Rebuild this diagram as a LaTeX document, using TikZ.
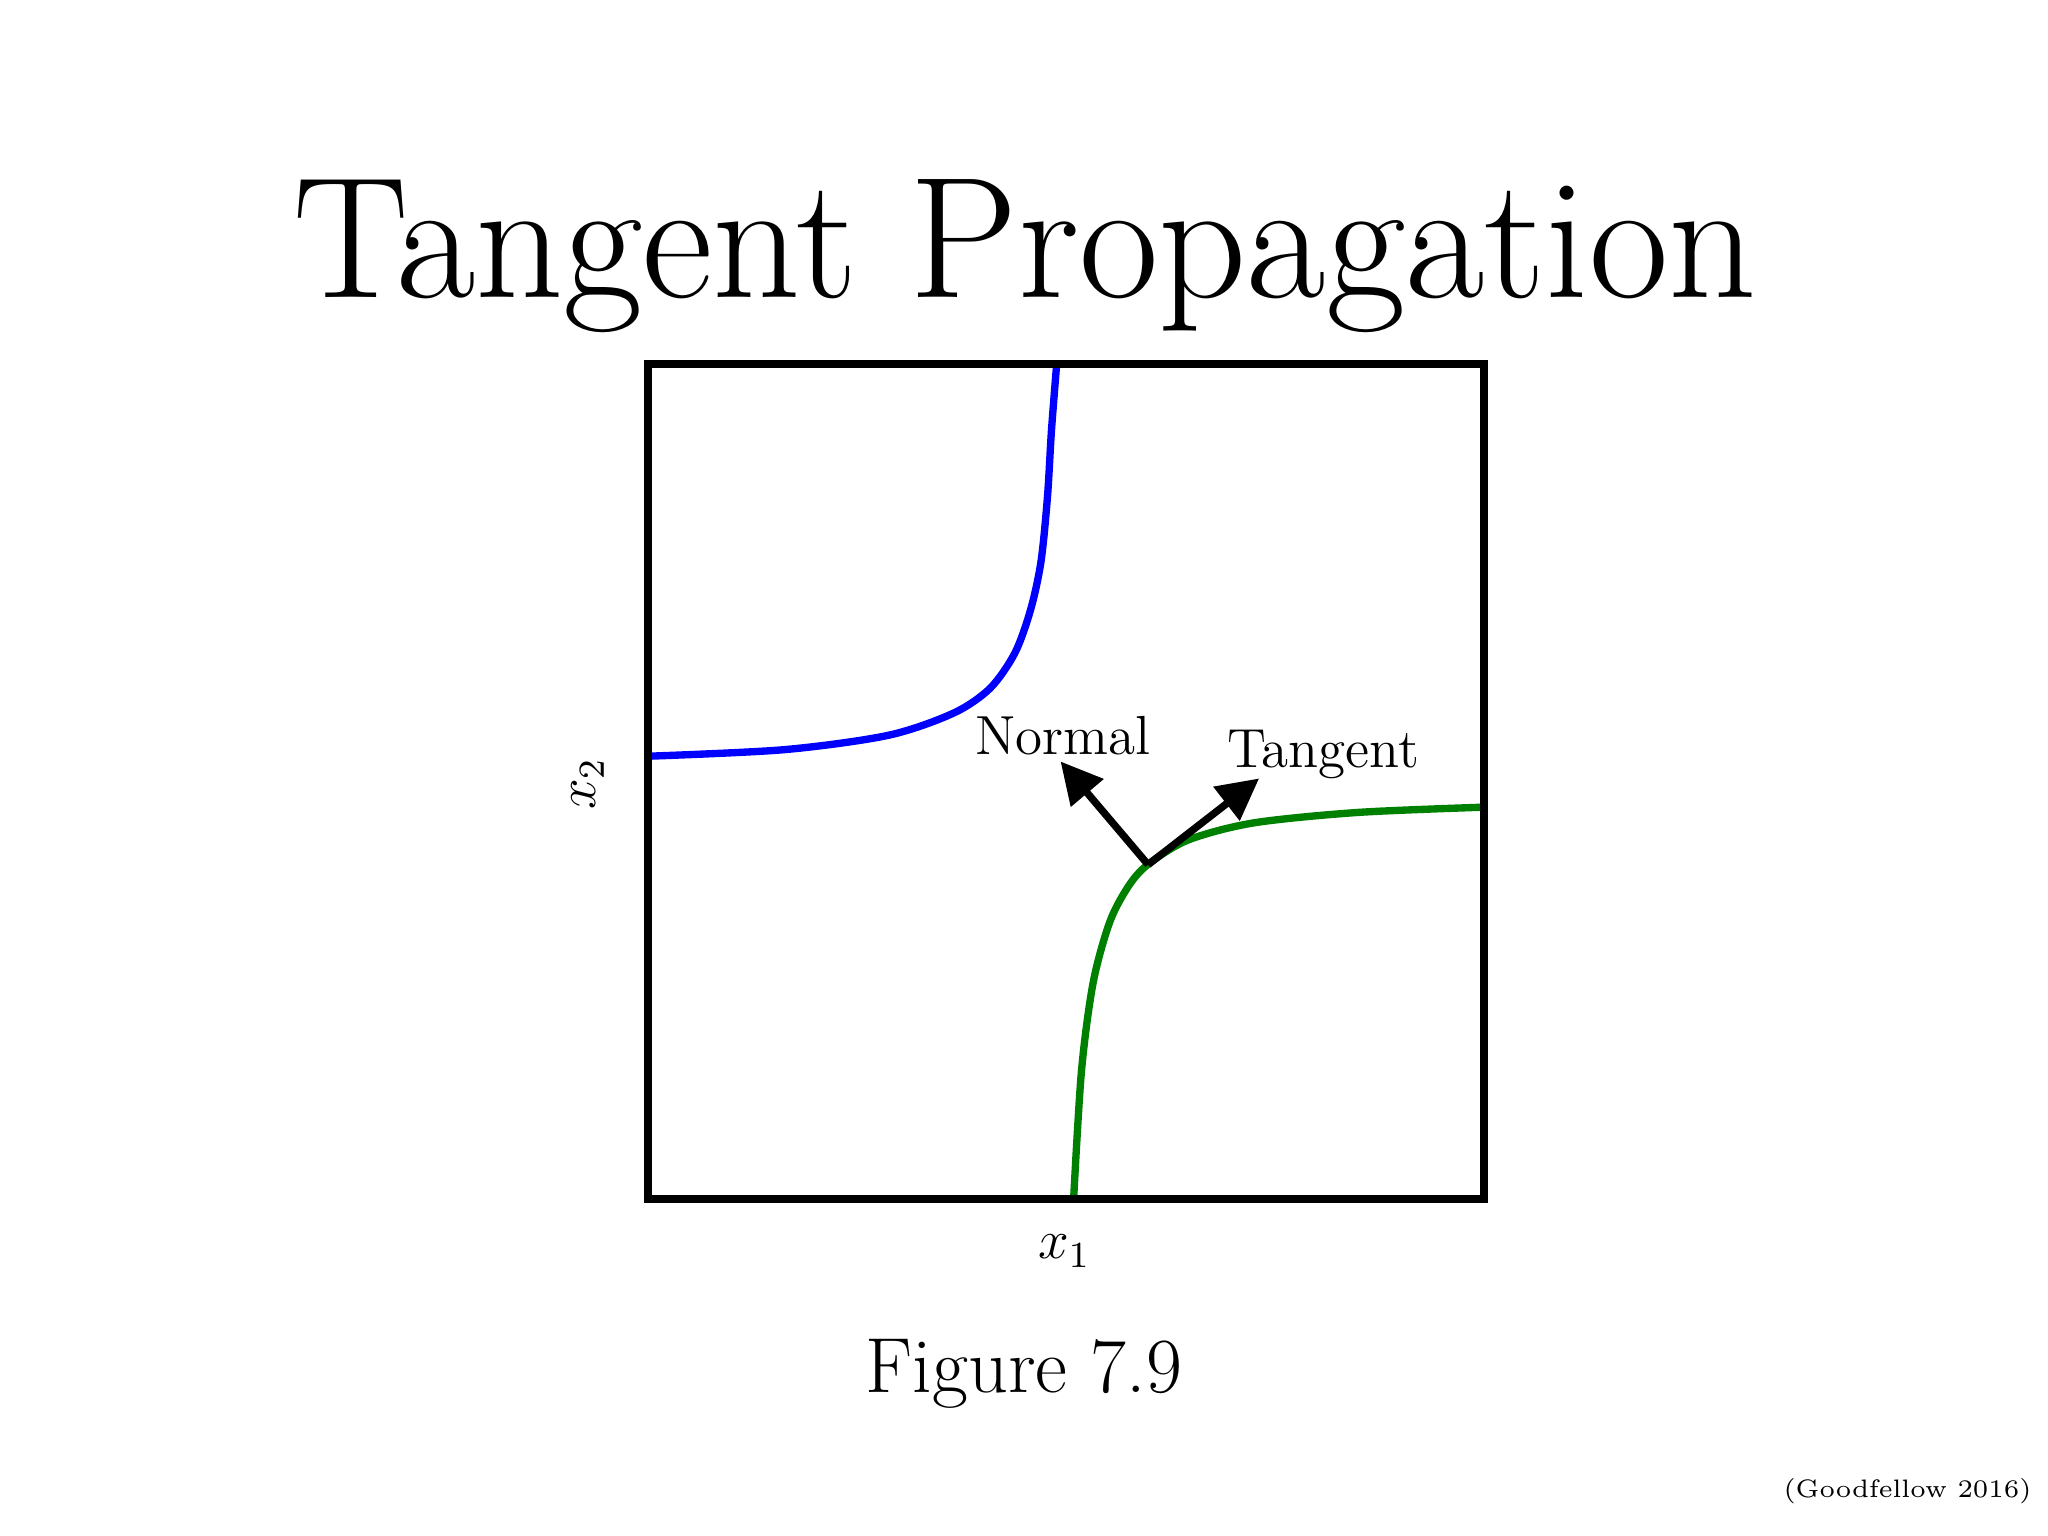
\documentclass[tikz,border=0pt]{standalone}
\usetikzlibrary{arrows.meta}
\tikzset{
  curve/.style={line width=1.6pt,line join=round},
  vec/.style={line width=1.6pt,-{Triangle[length=9pt,width=9pt]}},
  lbl/.style={font=\fontsize{12}{14}\selectfont}
}
\begin{document}
\begin{tikzpicture}[x=0.01cm,y=-0.01cm]
\useasboundingbox (0,0) rectangle (1568,1176);
\node (title) at (785,196) {\fontsize{37.6}{44}\selectfont Tangent Propagation};
\draw[curve,blue] plot[smooth,tension=0.5] coordinates{(496,579)(600,574)(680,563)(730,546)(758,527)(777,500)(789,467)(797,430)(802,380)(805,330)(809,279)};
\draw[curve,green!50!black] plot[smooth,tension=0.5] coordinates{(822,918)(828,820)(837,752)(850,705)(865,677)(880,661)(910,643)(960,630)(1040,622)(1136,618)};
\draw[line width=1.7pt] (496,279) rectangle (1136,918);
\coordinate (p) at (879,662);
\coordinate (n) at (812,583);
\coordinate (t) at (964,596);
\draw[vec] (p) -- (n);
\draw[vec] (p) -- (t);
\node[lbl] (nl) at (814,563) {Normal};
\node[lbl] (tl) at (1013,578) {Tangent};
\node[lbl,rotate=90] (x2) at (450,600) {$x_2$};
\node[lbl] (x1) at (815,958) {$x_1$};
\node (fig) at (784,1052) {\fontsize{17}{20}\selectfont Figure 7.9};
\node[anchor=east,inner sep=0pt] (cite) at (1556,1142) {\fontsize{5.5}{7}\selectfont (Goodfellow 2016)};
\end{tikzpicture}
\end{document}
